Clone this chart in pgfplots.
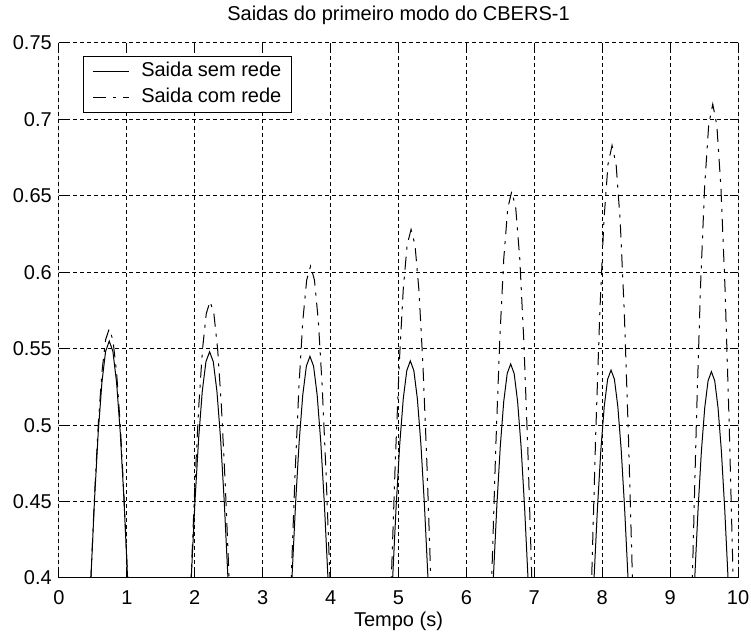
\documentclass[border=0pt]{standalone}
\usepackage{fontspec}
\setmainfont{Liberation Sans}
\usepackage{pgfplots}
\pgfplotsset{compat=1.18}
\begin{document}
\begin{tikzpicture}
\begin{axis}[
  scale only axis, width=679pt, height=535pt,
  xmin=0, xmax=10, ymin=0.4, ymax=0.75,
  xtick={0,1,2,3,4,5,6,7,8,9,10},
  xticklabels={0,1,2,3,4,5,6,7,8,9,10},
  ytick={0.4,0.45,0.5,0.55,0.6,0.65,0.7,0.75},
  yticklabels={0.4,0.45,0.5,0.55,0.6,0.65,0.7,0.75},
  tick align=inside, major tick length=8pt,
  tick style={black, line width=1pt},
  grid=major, major grid style={black, line width=1pt, dash pattern=on 4pt off 3pt},
  axis line style={draw=none},
  font=\fontsize{20}{24}\selectfont,
  xticklabel style={anchor=base, inner sep=0pt, yshift=-27pt},
  yticklabel style={anchor=east, inner sep=0pt, xshift=-7pt},
  title={Saidas do primeiro modo do CBERS-1},
  title style={at={(axis description cs:0.5,1)}, anchor=base, inner sep=0pt, yshift=16pt},
  xlabel={Tempo (s)},
  xlabel style={at={(axis description cs:0.5,0)}, anchor=base, inner sep=0pt, yshift=-49pt},
  legend style={at={(axis description cs:0.035,0.976)}, anchor=north west,
    draw=black, line width=1pt, inner xsep=9pt, inner ysep=5pt,
    font=\fontsize{20}{24}\selectfont,
    nodes={inner sep=1pt, text height=14pt, text depth=4pt},
    row sep=6pt, column sep=11pt},
  legend cell align=left,
  legend image code/.code={\draw[#1] (0pt,0pt) -- (36pt,0pt);},
]
\addplot[black, line width=1pt] coordinates {
(0.416,0.3419)(0.47,0.4)(0.524,0.4520)(0.578,0.4954)(0.632,0.5279)(0.686,0.5482)(0.74,0.555)(0.794,0.5482)(0.848,0.5279)(0.902,0.4954)(0.956,0.4520)(1.01,0.4)(1.064,0.3419)
(1.48,0.2)
(1.894,0.3445)(1.948,0.4)(2.002,0.4497)(2.056,0.4910)(2.11,0.5221)(2.164,0.5415)(2.218,0.548)(2.272,0.5415)(2.326,0.5221)(2.38,0.4910)(2.434,0.4497)(2.488,0.4)(2.542,0.3445)
(2.96,0.2)
(3.378,0.3457)(3.431,0.4)(3.484,0.4486)(3.537,0.4892)(3.590,0.5197)(3.643,0.5386)(3.696,0.545)(3.749,0.5386)(3.802,0.5197)(3.855,0.4892)(3.908,0.4486)(3.961,0.4)(4.014,0.3457)
(4.44,0.2)
(4.862,0.3468)(4.914,0.4)(4.966,0.4476)(5.018,0.4874)(5.070,0.5172)(5.122,0.5357)(5.174,0.542)(5.226,0.5357)(5.278,0.5172)(5.330,0.4874)(5.382,0.4476)(5.434,0.4)(5.486,0.3468)
(5.92,0.2)
(6.346,0.3475)(6.397,0.4)(6.448,0.4470)(6.499,0.4861)(6.550,0.5155)(6.601,0.5338)(6.652,0.540)(6.703,0.5338)(6.754,0.5155)(6.805,0.4861)(6.856,0.4470)(6.907,0.4)(6.958,0.3475)
(7.39,0.2)
(7.83,0.3490)(7.88,0.4)(7.93,0.4456)(7.98,0.4837)(8.03,0.5122)(8.08,0.5300)(8.13,0.536)(8.18,0.5300)(8.23,0.5122)(8.28,0.4837)(8.33,0.4456)(8.38,0.4)(8.43,0.3490)
(8.87,0.2)
(9.314,0.3494)(9.363,0.4)(9.412,0.4453)(9.461,0.4831)(9.510,0.5114)(9.559,0.5290)(9.608,0.535)(9.657,0.5290)(9.706,0.5114)(9.755,0.4831)(9.804,0.4453)(9.853,0.4)(9.902,0.3494)
};
\addlegendentry{Saida sem rede\hspace{8pt}}
\addplot[black, line width=1pt, dash pattern=on 13pt off 7pt on 3pt off 7pt] coordinates {
(0.416,0.3389)(0.47,0.4)(0.524,0.4547)(0.578,0.5003)(0.632,0.5345)(0.686,0.5558)(0.74,0.563)(0.794,0.5558)(0.848,0.5345)(0.902,0.5003)(0.956,0.4547)(1.01,0.4)(1.064,0.3389)
(1.48,0.2)
(1.889,0.3322)(1.945,0.4)(2.001,0.4607)(2.057,0.5114)(2.113,0.5494)(2.169,0.5730)(2.225,0.581)(2.281,0.5730)(2.337,0.5494)(2.393,0.5114)(2.449,0.4607)(2.505,0.4)(2.561,0.3322)
(2.96,0.2)
(3.363,0.3236)(3.420,0.4)(3.477,0.4684)(3.534,0.5255)(3.591,0.5684)(3.648,0.5950)(3.705,0.604)(3.762,0.5950)(3.819,0.5684)(3.876,0.5255)(3.933,0.4684)(3.990,0.4)(4.047,0.3236)
(4.44,0.2)
(4.837,0.3146)(4.895,0.4)(4.953,0.4765)(5.011,0.5403)(5.069,0.5882)(5.127,0.6179)(5.185,0.628)(5.243,0.6179)(5.301,0.5882)(5.359,0.5403)(5.417,0.4765)(5.475,0.4)(5.533,0.3146)
(5.92,0.2)
(6.314,0.3052)(6.373,0.4)(6.432,0.4849)(6.491,0.5556)(6.550,0.6088)(6.609,0.6418)(6.668,0.653)(6.727,0.6418)(6.786,0.6088)(6.845,0.5556)(6.904,0.4849)(6.963,0.4)(7.022,0.3052)
(7.39,0.2)
(7.785,0.2940)(7.845,0.4)(7.905,0.4949)(7.965,0.5741)(8.025,0.6336)(8.085,0.6705)(8.145,0.683)(8.205,0.6705)(8.265,0.6336)(8.325,0.5741)(8.385,0.4949)(8.445,0.4)(8.505,0.2940)
(8.87,0.2)
(9.268,0.2838)(9.328,0.4)(9.388,0.5040)(9.448,0.5907)(9.508,0.6558)(9.568,0.6963)(9.628,0.710)(9.688,0.6963)(9.748,0.6558)(9.808,0.5907)(9.868,0.5040)(9.928,0.4)(9.988,0.2838)
};
\addlegendentry{Saida com rede\hspace{8pt}}
\draw[black, line width=1pt] (rel axis cs:0,1) -- (rel axis cs:0,0) -- (rel axis cs:1,0) -- (rel axis cs:1,1);
\end{axis}
\path ([shift={(-59pt,-63pt)}]current axis.south west) rectangle ([shift={(13pt,43pt)}]current axis.north east);
\end{tikzpicture}
\end{document}
